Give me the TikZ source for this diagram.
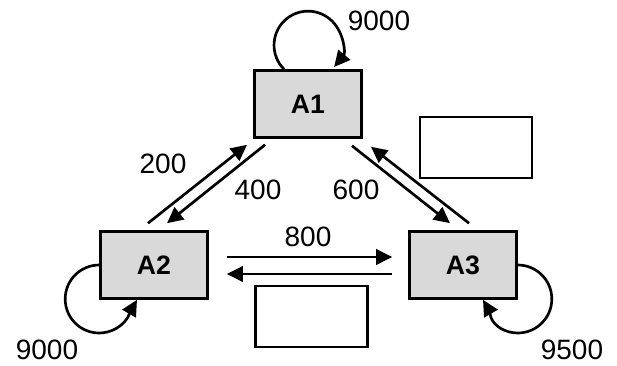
\documentclass[tikz,border=0pt]{standalone}
\usepackage{fontspec}
\setmainfont{Liberation Sans}
\usepackage{tikz}
\usetikzlibrary{positioning, arrows.meta}
\tikzset{
	>={Triangle[length=12pt, width=11.5pt]}, % Puntas triangulares rellenas
	estado/.style={draw, line width=2.2pt, fill=black!15, minimum width=80pt, minimum height=50pt, font=\bfseries\fontsize{20}{24}\selectfont}, % Cajas grises
	nota/.style={draw, line width=1.7pt, minimum width=84pt, minimum height=46pt}, % Cajas vacias
	flecha/.style={->, line width=2pt}, % Arcos dirigidos
	etiqueta/.style={font=\fontsize{21}{24}\selectfont} % Pesos de los arcos
}

\begin{document}
\begin{tikzpicture}[x=0.75pt, y=0.75pt]
	\useasboundingbox (0,0) rectangle (617,365);
	\node[estado] (A1) at (308,261) {A1};
	\node[estado, on grid, below left=120.75pt and 115.5pt of A1] (A2) {A2};
	\node[estado, on grid, below right=120.75pt and 116.25pt of A1] (A3) {A3};
	\node[nota] (nota1) at (476,217.5) {};
	\node[nota] (nota2) at (311.5,48.5) {};
	\node[etiqueta] (p11) at (379,344) {9000};
	\node[etiqueta] (p21) at (163,201) {200};
	\node[etiqueta] (p12) at (258,175) {400};
	\node[etiqueta] (p13) at (356,175) {600};
	\node[etiqueta] (p23) at (308,128) {800};
	\node[etiqueta] (p22) at (47,15) {9000};
	\node[etiqueta] (p33) at (572,15) {9500};
	\draw[flecha] ([shift={(-6,7)}]A2.north) -- ([shift={(-61,-6)}]A1.south);
	\draw[flecha] ([shift={(-43,-6)}]A1.south) -- ([shift={(13,7)}]A2.north);
	\draw[flecha] ([shift={(44,-7)}]A1.south) -- ([shift={(-13,7)}]A3.north);
	\draw[flecha] ([shift={(6,7)}]A3.north) -- ([shift={(63,-8)}]A1.south);
	\draw[flecha] ([shift={(18,8)}]A2.east) -- ([shift={(-16,8)}]A3.west);
	\draw[flecha] ([shift={(-16,-9)}]A3.west) -- ([shift={(18,-9)}]A2.east);
	\draw[flecha] ([shift={(-24,0)}]A1.north) arc[start angle=225, end angle=-40, radius=34];
	\draw[flecha] (A2.west) arc[start angle=90, end angle=300, radius=34] to[out=30, in=240] ([shift={(-17,0)}]A2.south);
	\draw[flecha] (A3.east) arc[start angle=90, end angle=-120, radius=34] to[out=150, in=300] ([shift={(20,0)}]A3.south);
\end{tikzpicture}
\end{document}
